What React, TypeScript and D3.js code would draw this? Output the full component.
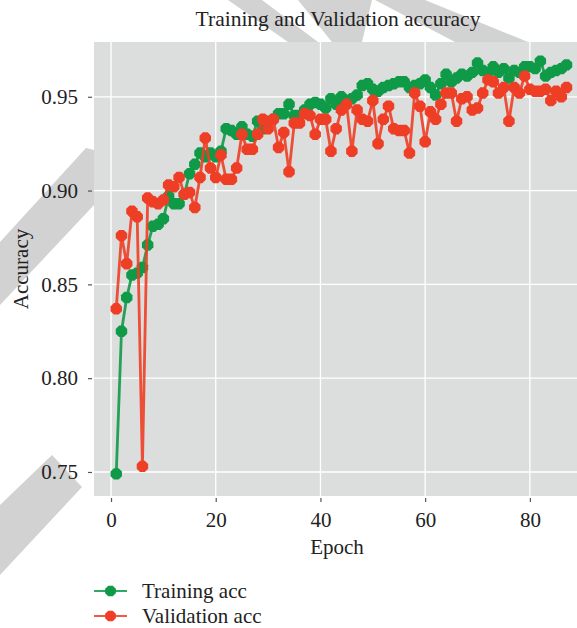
import React, { useEffect, useRef } from "react";
import * as d3 from "d3";

// accuracy per epoch (epochs 1..87)
const trainingAcc = [
  0.749, 0.825, 0.843, 0.855, 0.856, 0.859, 0.871, 0.881, 0.882, 0.885,
  0.897, 0.893, 0.893, 0.898, 0.909, 0.914, 0.920, 0.918, 0.920, 0.918,
  0.921, 0.933, 0.932, 0.930, 0.934, 0.930, 0.929, 0.937, 0.933, 0.937,
  0.938, 0.941, 0.941, 0.946, 0.940, 0.940, 0.943, 0.946, 0.947, 0.946,
  0.944, 0.949, 0.946, 0.950, 0.948, 0.949, 0.951, 0.956, 0.957, 0.954,
  0.953, 0.955, 0.956, 0.957, 0.958, 0.958, 0.955, 0.956, 0.957, 0.959,
  0.955, 0.951, 0.957, 0.962, 0.958, 0.960, 0.962, 0.961, 0.963, 0.968,
  0.964, 0.963, 0.966, 0.963, 0.965, 0.960, 0.964, 0.963, 0.966, 0.966,
  0.965, 0.969, 0.961, 0.963, 0.964, 0.965, 0.967,
];

const validationAcc = [
  0.837, 0.876, 0.861, 0.889, 0.886, 0.753, 0.896, 0.894, 0.893, 0.895,
  0.903, 0.902, 0.907, 0.898, 0.899, 0.891, 0.907, 0.928, 0.912, 0.907,
  0.919, 0.906, 0.906, 0.912, 0.930, 0.922, 0.922, 0.930, 0.938, 0.933,
  0.938, 0.923, 0.931, 0.910, 0.936, 0.936, 0.941, 0.940, 0.930, 0.938,
  0.938, 0.921, 0.933, 0.943, 0.946, 0.921, 0.943, 0.938, 0.937, 0.948,
  0.925, 0.938, 0.945, 0.933, 0.932, 0.932, 0.920, 0.952, 0.945, 0.926,
  0.942, 0.938, 0.946, 0.952, 0.952, 0.937, 0.949, 0.950, 0.943, 0.944,
  0.952, 0.959, 0.958, 0.952, 0.955, 0.937, 0.955, 0.952, 0.961, 0.954,
  0.953, 0.953, 0.954, 0.948, 0.953, 0.950, 0.955,
];

const xTicks = [0, 20, 40, 60, 80];
const yTicks = [0.75, 0.8, 0.85, 0.9, 0.95];
const seriesNames = ["Training acc", "Validation acc"];
const seriesColors = ["#0f9a47", "#ee3e25"];

// faint watermark shapes in the white margins
const watermark: [number, number][][] = [
  [[228, 0], [262, 0], [318, 42], [288, 42]],
  [[298, 0], [372, 0], [362, 42], [332, 42]],
  [[375, 0], [425, 0], [528, 42], [455, 42]],
  [[86, 148], [94, 150], [94, 205], [0, 305], [0, 242]],
  [[52, 455], [82, 487], [0, 575], [0, 505]],
];

const FONT = "'Liberation Serif', 'DejaVu Serif', serif";

export default function App() {
  const svgRef = useRef<SVGSVGElement | null>(null);

  useEffect(() => {
    if (!svgRef.current) return;
    const svg = d3.select(svgRef.current);
    svg.selectAll("*").remove();

    const panel = { left: 94, right: 577, top: 42, bottom: 496 };
    const x = d3.scaleLinear().domain([-3.25, 89.0]).range([panel.left, panel.right]);
    const y = d3.scaleLinear().domain([0.7372, 0.9792]).range([panel.bottom, panel.top]);

    svg.append("g")
      .selectAll("path")
      .data(watermark)
      .enter()
      .append("path")
      .attr("d", d => "M" + d.join("L") + "Z")
      .attr("fill", "#d2d2d2");

    svg.append("rect")
      .attr("x", panel.left)
      .attr("y", panel.top)
      .attr("width", panel.right - panel.left)
      .attr("height", panel.bottom - panel.top)
      .attr("fill", "#dcdedd");

    const grid = svg.append("g").attr("stroke", "#ffffff").attr("stroke-width", 1.3);
    grid.selectAll(".gx")
      .data(xTicks)
      .enter()
      .append("line")
      .attr("x1", d => x(d))
      .attr("x2", d => x(d))
      .attr("y1", panel.top)
      .attr("y2", panel.bottom);
    grid.selectAll(".gy")
      .data(yTicks)
      .enter()
      .append("line")
      .attr("y1", d => y(d))
      .attr("y2", d => y(d))
      .attr("x1", panel.left)
      .attr("x2", panel.right);

    const xAxis = svg.append("g")
      .attr("transform", `translate(0,${panel.bottom + 2})`)
      .call(d3.axisBottom(x).tickValues(xTicks).tickSize(4).tickPadding(10).tickFormat(d3.format("d")));
    const yAxis = svg.append("g")
      .attr("transform", `translate(${panel.left - 2},0)`)
      .call(d3.axisLeft(y).tickValues(yTicks).tickSize(4).tickPadding(10).tickFormat(d3.format(".2f")));
    [xAxis, yAxis].forEach(g => {
      g.select(".domain").remove();
      g.selectAll(".tick line").attr("stroke", "#555").attr("stroke-width", 1.2);
      g.selectAll(".tick text")
        .attr("fill", "#222")
        .style("font-family", FONT)
        .style("font-size", "21px");
    });

    const octagon = (r: number) =>
      "M" + d3.range(8).map(i => {
        const a = (i + 0.5) * Math.PI / 4;
        return [r * Math.cos(a), r * Math.sin(a)].join(",");
      }).join("L") + "Z";

    const line = d3.line<number>()
      .x((_, i) => x(i + 1))
      .y(d => y(d));

    [trainingAcc, validationAcc].forEach((values, s) => {
      const g = svg.append("g");
      g.append("path")
        .attr("d", line(values))
        .attr("fill", "none")
        .attr("stroke", seriesColors[s])
        .attr("stroke-width", 2.8)
        .attr("stroke-linejoin", "round")
        .attr("opacity", 0.9);
      g.selectAll(".pt")
        .data(values)
        .enter()
        .append("path")
        .attr("transform", (d, i) => `translate(${x(i + 1)},${y(d)})`)
        .attr("d", octagon(6.2))
        .attr("fill", seriesColors[s]);
    });

    const text = (tx: number, ty: number, label: string, size: number) =>
      svg.append("text")
        .attr("x", tx)
        .attr("y", ty)
        .attr("text-anchor", "middle")
        .attr("dominant-baseline", "central")
        .attr("fill", "#222")
        .style("font-family", FONT)
        .style("font-size", `${size}px`)
        .text(label);

    text(338, 19, "Training and Validation accuracy", 21.5);
    text(337, 547, "Epoch", 21);
    text(0, 0, "Accuracy", 21).attr("transform", "translate(21,269) rotate(-90)");

    const legend = svg.append("g");
    seriesNames.forEach((name, s) => {
      const ly = 591 + s * 25;
      legend.append("line")
        .attr("x1", 94).attr("x2", 127)
        .attr("y1", ly).attr("y2", ly)
        .attr("stroke", seriesColors[s])
        .attr("stroke-width", 1.8)
        .attr("opacity", 0.85);
      legend.append("path")
        .attr("transform", `translate(110.5,${ly})`)
        .attr("d", octagon(5.8))
        .attr("fill", seriesColors[s]);
      legend.append("text")
        .attr("x", 142)
        .attr("y", ly)
        .attr("dominant-baseline", "central")
        .attr("fill", "#222")
        .style("font-family", FONT)
        .style("font-size", "21px")
        .text(name);
    });
  }, []);

  return (
    <svg
      ref={svgRef}
      width={577}
      height={628}
      style={{ position: "absolute", left: 0, top: 0, background: "#fff" }}
    />
  );
}
